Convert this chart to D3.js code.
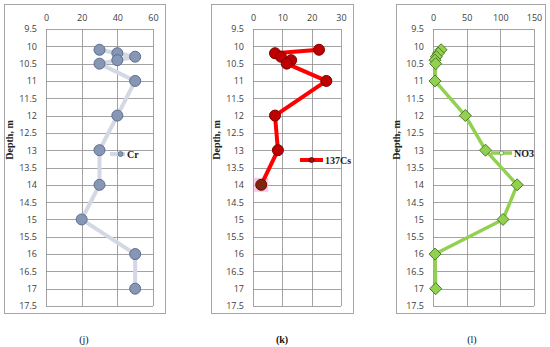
<!DOCTYPE html>
<html><head><meta charset="utf-8">
<script src="https://cdn.jsdelivr.net/npm/d3@7"></script>
<style>body{margin:0;background:#fff}svg{display:block}</style>
</head><body>
<script>
const depthTicks = [9.5,10,10.5,11,11.5,12,12.5,13,13.5,14,14.5,15,15.5,16,16.5,17,17.5];
const crDepth = [10.1,10.2,10.3,10.4,10.5,11,12,13,14,15,16,17];
const crValue = [30,40,50,40,30,50,40,30,30,20,50,50];
const crTicks = [0,20,40,60];
const csDepth = [10.1,10.2,10.3,10.4,10.5,11,12,13,14];
const csValue = [22.5,7.5,9.5,13,11.5,25,7.5,8.5,2.8];
const csTicks = [0,10,20,30];
const no3Depth = [10.1,10.2,10.3,10.4,10.5,11,12,13,14,15,16,17];
const no3Value = [12,8,5,3,4,3,48,78,125,104,3,4];
const no3Ticks = [0,50,100,150];
const seriesNames = ["Cr","137Cs","NO3"];
const captions = ["(j)","(k)","(l)"];

const W=550,H=347;
const svg=d3.select("body").append("svg").attr("width",W).attr("height",H);

const panels=[
 {box:[4,4,165,313],px:[46,153],ticks:crTicks,depth:crDepth,val:crValue,name:seriesNames[0],cap:captions[0],capX:84,capW:"normal",
  lineC:"#d3d8e4",mFill:"#8597b5",mStroke:"#5d6d8e",shape:"circle",leg:[110,125,154],legM:"#8597b5"},
 {box:[211,4,353,313],px:[253,341],ticks:csTicks,depth:csDepth,val:csValue,name:seriesNames[1],cap:captions[1],capX:282,capW:"bold",
  lineC:"#ff0000",mFill:"#c00000",mStroke:"#7a0000",shape:"circle",leg:[300,323,160],legM:"#8b1a1a"},
 {box:[396,4,545,313],px:[433,534],ticks:no3Ticks,depth:no3Depth,val:no3Value,name:seriesNames[2],cap:captions[2],capX:472,capW:"normal",
  lineC:"#92d050",mFill:"#92d050",mStroke:"#4f7a25",shape:"diamond",leg:[491,512,153],legM:"open"}
];
const py=[29,306];

panels.forEach((p,pi)=>{
  const g=svg.append("g");
  g.append("rect").attr("x",p.box[0]+0.5).attr("y",p.box[1]+0.5).attr("width",p.box[2]-p.box[0]).attr("height",p.box[3]-p.box[1])
   .attr("fill","#fff").attr("stroke","#a6a6a6").attr("stroke-width",1);
  const x=d3.scaleLinear().domain([p.ticks[0],p.ticks[p.ticks.length-1]]).range(p.px);
  const y=d3.scaleLinear().domain([9.5,17.5]).range(py);
  g.selectAll(".hg").data(depthTicks).join("line").attr("x1",p.px[0]).attr("x2",p.px[1])
   .attr("y1",d=>Math.round(y(d))+0.5).attr("y2",d=>Math.round(y(d))+0.5).attr("stroke","#8c8c8c").attr("stroke-width",0.8);
  g.selectAll(".vg").data(p.ticks).join("line").attr("y1",py[0]).attr("y2",py[1])
   .attr("x1",d=>Math.round(x(d))+0.5).attr("x2",d=>Math.round(x(d))+0.5).attr("stroke","#8c8c8c").attr("stroke-width",0.8);
  const xa=d3.axisTop(x).tickValues(p.ticks).tickSize(0).tickPadding(0);
  const xg=g.append("g").attr("transform",`translate(0,${py[0]-8})`).call(xa);
  xg.select(".domain").remove();
  xg.selectAll("text").attr("font-family","'Open Sans',sans-serif").attr("font-size",9).attr("fill","#404040");
  const ya=d3.axisLeft(y).tickValues(depthTicks).tickSize(0).tickPadding(0).tickFormat(d=>String(d));
  const yg=g.append("g").attr("transform",`translate(${p.px[0]-9},0)`).call(ya);
  yg.select(".domain").remove();
  yg.selectAll("text").attr("font-family","'Open Sans',sans-serif").attr("font-size",9).attr("fill","#404040");
  const lx=p.px[0]-33;
  g.append("text").attr("transform",`translate(${lx},140) rotate(-90)`).attr("text-anchor","middle")
   .attr("font-family","'Liberation Serif',serif").attr("font-weight","bold").attr("font-size",10).attr("fill","#222").text("Depth, m");
  const pts=p.depth.map((d,i)=>[x(p.val[i]),y(d)]);
  if(pi===1){
    const lp=pts[pts.length-1];
    g.append("rect").attr("x",lp[0]-7).attr("y",lp[1]-7).attr("width",14).attr("height",14).attr("fill","#f7c6e6");
  }
  g.append("path").attr("d",d3.line()(pts)).attr("fill","none").attr("stroke",p.lineC).attr("stroke-width",p.shape==="diamond"?3.5:4).attr("stroke-linejoin","round");
  if(p.shape==="circle"){
    g.selectAll(".m").data(pts).join("circle").attr("cx",d=>d[0]).attr("cy",d=>d[1]).attr("r",5.5)
     .attr("fill",(d,i)=> (pi===1 && i===pts.length-1)?"#7b2a0e":p.mFill).attr("stroke",p.mStroke).attr("stroke-width",1);
  } else {
    g.selectAll(".m").data(pts).join("path").attr("d",d=>`M${d[0]},${d[1]-6}L${d[0]+6},${d[1]}L${d[0]},${d[1]+6}L${d[0]-6},${d[1]}Z`)
     .attr("fill",p.mFill).attr("stroke",p.mStroke).attr("stroke-width",1);
  }
  const [l1,l2,ly]=p.leg;
  g.append("line").attr("x1",l1).attr("x2",l2).attr("y1",ly).attr("y2",ly).attr("stroke",p.lineC).attr("stroke-width",p.shape==="diamond"?3.5:4);
  const mx=(l1+l2)/2+ (pi===0?3:0);
  if(p.legM==="open"){
    g.append("circle").attr("cx",mx).attr("cy",ly).attr("r",2).attr("fill","#fff").attr("stroke","#6a8f3a").attr("stroke-width",0.8);
  } else {
    g.append("circle").attr("cx",mx).attr("cy",ly).attr("r",2.5).attr("fill",p.legM).attr("stroke",pi===0?"#5d6d8e":"#5a0000").attr("stroke-width",0.8);
  }
  g.append("text").attr("x",l2+2).attr("y",ly+3.5).attr("font-family","'Liberation Serif',serif").attr("font-weight","bold")
   .attr("font-size",10).attr("fill","#222").text(p.name);
  svg.append("text").attr("x",p.capX).attr("y",343).attr("text-anchor","middle").attr("font-family","'Liberation Serif',serif")
   .attr("font-weight",p.capW).attr("font-size",10).attr("fill","#111").text(p.cap);
});
</script>
</body></html>
